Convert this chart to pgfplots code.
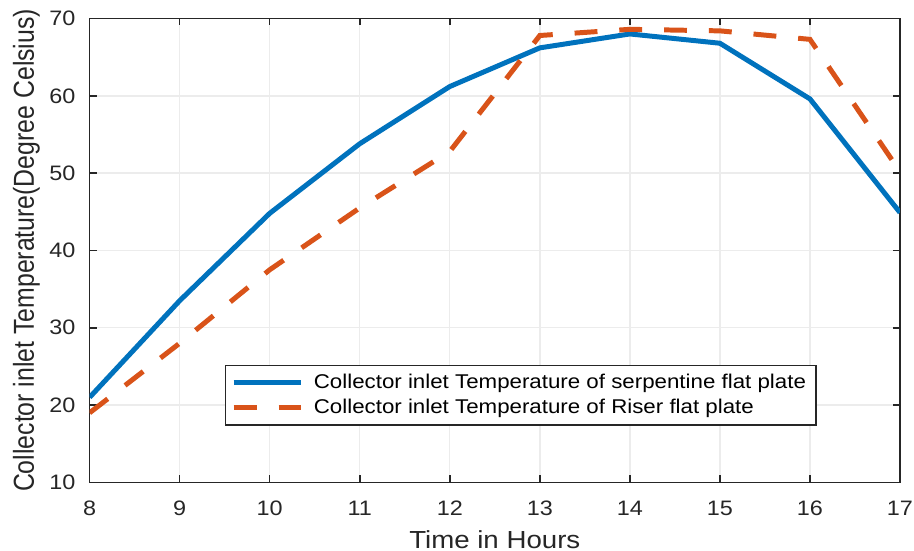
\documentclass[border=0pt]{standalone}
\usepackage{fontspec}
\setmainfont{Liberation Sans}[FakeStretch=1.12]
\newfontfamily\ylabfont{Liberation Sans}[FakeStretch=0.86]
\usepackage{pgfplots}
\pgfplotsset{compat=1.18}

\definecolor{mblue}{RGB}{0,114,189}
\definecolor{morange}{RGB}{217,83,25}
\definecolor{axgray}{RGB}{38,38,38}

\begin{document}
\begin{tikzpicture}
\begin{axis}[
    scale only axis,
    width=407pt, height=233pt,
    xmin=8, xmax=17,
    ymin=10, ymax=70,
    xtick={8,...,17},
    ytick={10,20,...,70},
    xmajorgrids=true, ymajorgrids=true,
    grid style={gray!15, line width=0.7pt},
    axis line style={axgray, line width=0.8pt},
    tick style={axgray, line width=0.8pt},
    tick align=inside,
    major tick length=3.5pt,
    tick label style={font=\fontsize{10.5}{12}\selectfont, text=axgray},
    xticklabel style={yshift=-6pt, inner xsep=0.5pt},
    yticklabel style={xshift=-3.6pt},
    /pgf/number format/assume math mode=true,
    xlabel={Time in Hours},
    ylabel={Collector inlet Temperature(Degree Celsius)},
    xlabel style={font=\fontsize{12.4}{14}\selectfont, text=axgray,
        at={(axis description cs:0.5,0)}, anchor=base, yshift=-33pt,
        inner sep=1pt},
    ylabel style={font=\ylabfont\fontsize{14.5}{16}\selectfont, text=axgray,
        at={(axis description cs:-0.078,0.5)}, anchor=center,
        inner xsep=4.5pt, inner ysep=6.5pt},
    legend style={at={(axis cs:9.5,25.2)}, anchor=north west,
        font=\fontsize{10}{12}\selectfont, draw=axgray, line width=0.6pt,
        inner xsep=3pt, inner ysep=2.2pt, row sep=0pt, column sep=3pt},
    legend cell align=left,
    legend image code/.code={\draw[#1, line width=2.5pt] (0pt,0pt) -- (34pt,0pt);},
]
\addplot[mblue, line width=2.5pt] coordinates {
    (8,21.0) (9,33.5) (10,44.8) (11,53.8) (12,61.2) (13,66.2)
    (14,68.0) (15,66.8) (16,59.6) (17,44.9)
};
\addlegendentry{Collector inlet Temperature of serpentine flat plate}
\addplot[morange, line width=2.5pt, dash pattern=on 11.5pt off 11pt] coordinates {
    (8,19.0) (9,28.0) (10,37.5) (11,45.5) (12,52.8) (13,67.8)
    (14,68.6) (15,68.4) (16,67.3) (17,50.2)
};
\addlegendentry{Collector inlet Temperature of Riser flat plate}
\end{axis}
\end{tikzpicture}
\end{document}
